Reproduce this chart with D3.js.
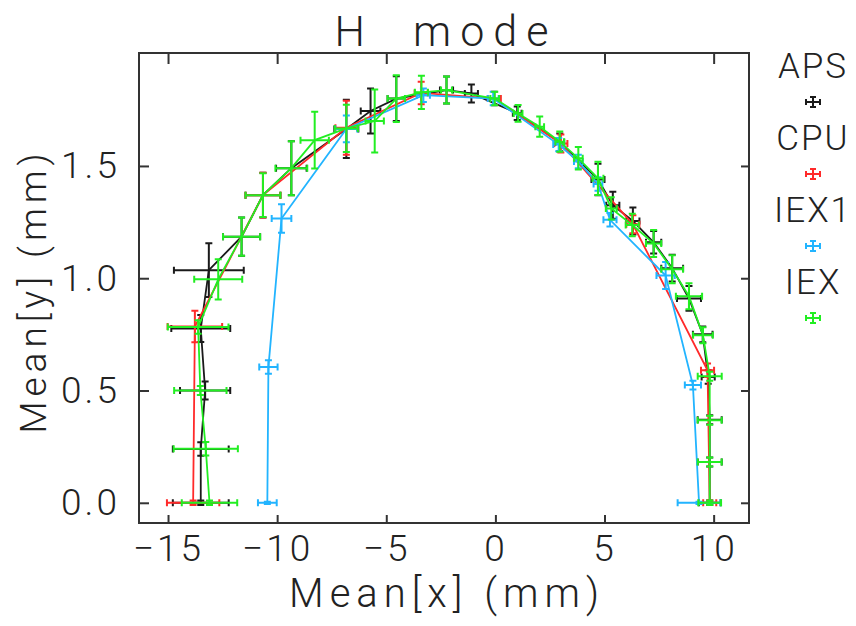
<!DOCTYPE html>
<html>
<head>
<meta charset="utf-8">
<script src="https://cdn.jsdelivr.net/npm/d3@7"></script>
<style>
  body { margin: 0; background: #fff; }
  svg { display: block; }
  text { font-family: Roboto, "DejaVu Sans", sans-serif; font-weight: 300; fill: #222; }
</style>
</head>
<body>
<svg class="chart"></svg>
<script>
// series data: x, y, x error, y error (mm)
var apsX    = [-13.5, -13.5, -13.3, -13.5, -13.13, -11.63, -10.65, -9.35, -6.83, -5.72, -4.54, -2.24, -1.1, 1.0, 2.95, 4.7, 5.38, 6.3, 7.25, 8.1, 8.87, 9.5, 9.75, 9.82, 9.82, 9.82];
var apsY    = [0.0, 0.24, 0.50, 0.776, 1.036, 1.185, 1.37, 1.49, 1.665, 1.745, 1.80, 1.838, 1.823, 1.735, 1.605, 1.44, 1.325, 1.255, 1.16, 1.045, 0.91, 0.75, 0.56, 0.37, 0.182, 0.0];
var apsXErr = [1.28, 1.28, 1.15, 1.35, 1.6, 0.85, 0.8, 0.7, 0.55, 0.45, 0.4, 0.3, 0.3, 0.2, 0.2, 0.3, 0.3, 0.3, 0.35, 0.5, 0.55, 0.45, 0.3, 0.55, 0.55, 0.5];
var apsYErr = [0.01, 0.03, 0.04, 0.06, 0.12, 0.085, 0.1, 0.12, 0.13, 0.1, 0.1, 0.06, 0.04, 0.03, 0.04, 0.07, 0.06, 0.06, 0.05, 0.06, 0.055, 0.035, 0.03, 0.02, 0.02, 0.01];

var cpuX    = [-13.85, -13.77, -10.65, -6.83, -3.4, -0.05, 3.0, 6.3, 9.72, 9.82];
var cpuY    = [0.0, 0.785, 1.37, 1.67, 1.825, 1.80, 1.60, 1.24, 0.59, 0.0];
var cpuXErr = [1.2, 1.25, 0.8, 0.5, 0.3, 0.3, 0.3, 0.3, 0.3, 0.3];
var cpuYErr = [0.01, 0.07, 0.1, 0.12, 0.05, 0.03, 0.04, 0.04, 0.03, 0.01];

var iex1X    = [-10.45, -10.4, -9.8, -6.83, -3.3, -0.1, 2.9, 3.8, 4.7, 5.25, 7.8, 9.05, 9.33];
var iex1Y    = [0.0, 0.605, 1.266, 1.665, 1.815, 1.80, 1.595, 1.52, 1.42, 1.26, 1.012, 0.524, 0.0];
var iex1XErr = [0.43, 0.42, 0.45, 0.5, 0.3, 0.25, 0.25, 0.2, 0.2, 0.3, 0.42, 0.37, 0.98];
var iex1YErr = [0.005, 0.03, 0.063, 0.06, 0.03, 0.03, 0.03, 0.03, 0.03, 0.03, 0.06, 0.02, 0.005];

var iexX    = [-13.1, -13.27, -13.52, -13.62, -12.7, -11.63, -10.65, -9.35, -8.28, -6.83, -5.53, -4.54, -3.39, -2.24, -0.03, 1.04, 2.03, 2.95, 3.8, 4.7, 5.31, 6.27, 7.25, 8.1, 8.87, 9.51, 9.82, 9.82, 9.82, 9.82];
var iexY    = [0.0, 0.241, 0.50, 0.783, 0.995, 1.185, 1.37, 1.49, 1.615, 1.667, 1.70, 1.80, 1.828, 1.838, 1.80, 1.734, 1.675, 1.608, 1.534, 1.445, 1.311, 1.237, 1.155, 1.04, 0.92, 0.746, 0.564, 0.368, 0.182, 0.0];
var iexXErr = [1.27, 1.47, 1.2, 1.39, 1.1, 0.85, 0.8, 0.73, 0.65, 0.53, 0.42, 0.4, 0.3, 0.25, 0.2, 0.2, 0.2, 0.2, 0.2, 0.25, 0.25, 0.3, 0.35, 0.5, 0.6, 0.45, 0.55, 0.55, 0.55, 0.52];
var iexYErr = [0.01, 0.03, 0.02, 0.03, 0.09, 0.085, 0.097, 0.12, 0.126, 0.105, 0.14, 0.104, 0.074, 0.06, 0.03, 0.037, 0.045, 0.045, 0.05, 0.074, 0.05, 0.05, 0.06, 0.062, 0.058, 0.036, 0.02, 0.02, 0.02, 0.01];

var seriesNames  = ["APS", "CPU", "IEX1", "IEX"];
var seriesColors = ["#1a1a1a", "#ff2a2a", "#22b4ff", "#22ee22"];

var xTicks = [-15, -10, -5, 0, 5, 10];
var yTicks = [0.0, 0.5, 1.0, 1.5];

function pack(xs, ys, xe, ye){
	return xs.map(function(d, i){ return {x: d, y: ys[i], xe: xe[i], ye: ye[i]}; });
}
var allData = [
	pack(apsX, apsY, apsXErr, apsYErr),
	pack(cpuX, cpuY, cpuXErr, cpuYErr),
	pack(iex1X, iex1Y, iex1XErr, iex1YErr),
	pack(iexX, iexY, iexXErr, iexYErr)
];

//set up chart (plot box in pixels)
var width = 856, height = 626;
var box = {left: 139, right: 749, top: 53, bottom: 523};

var svg = d3.select(".chart")
	.attr("width", width)
	.attr("height", height);

var xChart = d3.scaleLinear().domain([-16.33, 11.62]).range([box.left, box.right]);
var yChart = d3.scaleLinear().domain([-0.09, 2.003]).range([box.bottom, box.top]);

//axes, ticks pointing inward
svg.append("g")
	.attr("class", "xAxis")
	.attr("transform", "translate(0," + box.bottom + ")")
	.call(d3.axisBottom(xChart).tickValues(xTicks).tickSize(-8).tickPadding(12)
		.tickFormat(function(d){ return d < 0 ? "\u2212" + Math.abs(d) : d; }));
svg.append("g")
	.attr("transform", "translate(0," + box.top + ")")
	.call(d3.axisTop(xChart).tickValues(xTicks).tickSize(-11).tickFormat(""));
svg.append("g")
	.attr("class", "yAxis")
	.attr("transform", "translate(" + box.left + ",0)")
	.call(d3.axisLeft(yChart).tickValues(yTicks).tickSize(-10).tickPadding(19).tickFormat(d3.format(".1f")));
svg.append("g")
	.attr("transform", "translate(" + box.right + ",0)")
	.call(d3.axisRight(yChart).tickValues(yTicks).tickSize(-8).tickFormat(""));

svg.selectAll(".domain").remove();
svg.selectAll(".tick line").attr("stroke", "#333").attr("stroke-width", 2);
svg.selectAll(".xAxis text, .yAxis text")
	.style("font-size", "37px")
	.style("letter-spacing", "3px")
	.attr("fill", "#222");

svg.append("rect")
	.attr("x", box.left).attr("y", box.top)
	.attr("width", box.right - box.left).attr("height", box.bottom - box.top)
	.attr("fill", "none").attr("stroke", "#333").attr("stroke-width", 2);

//lines and error bars
var line = d3.line()
	.x(function(d){ return xChart(d.x); })
	.y(function(d){ return yChart(d.y); });

var cap = 3.5;
allData.forEach(function(data, k){
	var col = seriesColors[k];
	var g = svg.append("g").attr("class", "series");
	g.append("path")
		.datum(data)
		.attr("d", line)
		.attr("fill", "none")
		.attr("stroke", col)
		.attr("stroke-width", 1.8);
	g.selectAll(".err").data(data).enter().append("path")
		.attr("class", "err")
		.attr("fill", "none")
		.attr("stroke", col)
		.attr("stroke-width", 2)
		.attr("d", function(d){
			var cx = xChart(d.x), cy = yChart(d.y);
			var x0 = xChart(d.x - d.xe), x1 = xChart(d.x + d.xe);
			var y0 = yChart(d.y - d.ye), y1 = yChart(d.y + d.ye);
			return "M" + x0 + "," + cy + "H" + x1 +
				"M" + x0 + "," + (cy - cap) + "V" + (cy + cap) +
				"M" + x1 + "," + (cy - cap) + "V" + (cy + cap) +
				"M" + cx + "," + y0 + "V" + y1 +
				"M" + (cx - cap) + "," + y0 + "H" + (cx + cap) +
				"M" + (cx - cap) + "," + y1 + "H" + (cx + cap);
		});
});

//legend
var legend = svg.append("g").attr("class", "legend");
seriesNames.forEach(function(name, i){
	var ty = 78 + i * 72;
	legend.append("text")
		.attr("x", 813).attr("y", ty)
		.attr("text-anchor", "middle")
		.style("font-size", "35px")
		.style("letter-spacing", "2px")
		.text(name);
	var my = ty + 24, mx = 813;
	legend.append("path")
		.attr("fill", "none")
		.attr("stroke", seriesColors[i])
		.attr("stroke-width", 2)
		.attr("d", "M" + (mx - 7) + "," + my + "H" + (mx + 7) +
			"M" + (mx - 7) + "," + (my - 3) + "V" + (my + 3) +
			"M" + (mx + 7) + "," + (my - 3) + "V" + (my + 3) +
			"M" + mx + "," + (my - 5) + "V" + (my + 5) +
			"M" + (mx - 3) + "," + (my - 5) + "H" + (mx + 3) +
			"M" + (mx - 3) + "," + (my + 5) + "H" + (mx + 3));
});

//title and axis labels
svg.append("text")
	.attr("x", 446).attr("y", 46)
	.attr("text-anchor", "middle")
	.attr("xml:space", "preserve")
	.style("white-space", "pre")
	.style("font-size", "43px")
	.style("letter-spacing", "9px")
	.text("H  mode");

svg.append("text")
	.attr("x", 447).attr("y", 607)
	.attr("text-anchor", "middle")
	.style("font-size", "40px")
	.style("letter-spacing", "6px")
	.text("Mean[x] (mm)");

svg.append("text")
	.attr("transform", "translate(46,291) rotate(-90)")
	.attr("text-anchor", "middle")
	.style("font-size", "37px")
	.style("letter-spacing", "5px")
	.text("Mean[y] (mm)");
</script>
</body>
</html>
